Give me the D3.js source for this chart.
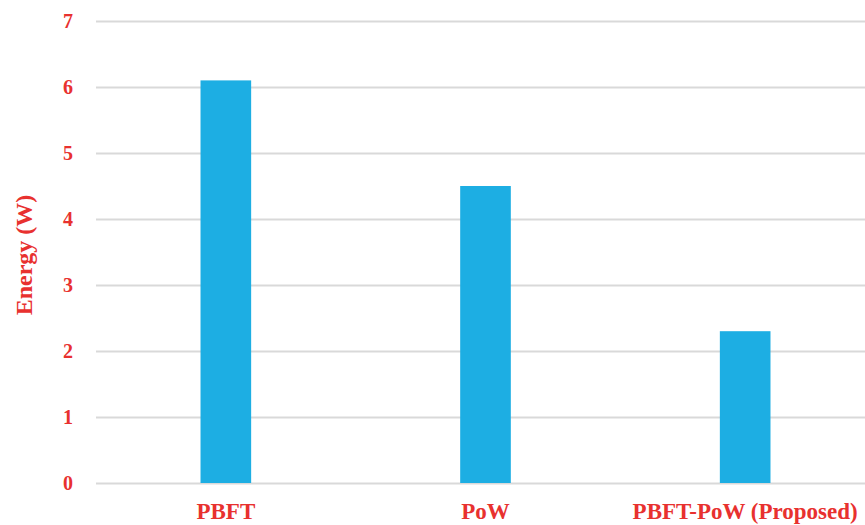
<!DOCTYPE html>
<html><head><meta charset="utf-8">
<script src="https://cdn.jsdelivr.net/npm/d3@7"></script>
<style>html,body{margin:0;padding:0;background:#fff;}</style>
</head><body>
<svg id="c" width="865" height="525"></svg>
<script>
const categories = ["PBFT", "PoW", "PBFT-PoW (Proposed)"];
const energy = [6.1, 4.5, 2.3];
const yTicks = [0, 1, 2, 3, 4, 5, 6, 7];
const yTitle = "Energy (W)";

const red = "#e8312f", blue = "#1daee3", grid = "#d9d9d9";
const font = "'Liberation Serif','Times New Roman',serif";
const svg = d3.select("#c");
const x = d3.scaleBand().domain(categories).range([96, 875]).paddingInner(0.805).paddingOuter(0.4025);
const y = d3.scaleLinear().domain([0, 7]).range([483, 21]);

const gy = svg.append("g").attr("transform", "translate(96,0)")
  .call(d3.axisLeft(y).tickValues(yTicks).tickSize(-780).tickPadding(23).tickFormat(d3.format("d")));
gy.select(".domain").remove();
gy.selectAll(".tick line").attr("stroke", grid).attr("stroke-width", 2);
gy.selectAll(".tick text").attr("fill", red).attr("font-family", font).attr("font-weight", "bold").attr("font-size", 20);

svg.append("g").selectAll("rect").data(energy).join("rect")
  .attr("x", (d, i) => x(categories[i])).attr("width", x.bandwidth())
  .attr("y", d => y(d)).attr("height", d => y(0) - y(d)).attr("fill", blue);

const gx = svg.append("g").attr("transform", "translate(0,483)")
  .call(d3.axisBottom(x).tickSize(0).tickPadding(20));
gx.select(".domain").remove();
gx.selectAll(".tick text").attr("fill", red).attr("font-family", font).attr("font-weight", "bold").attr("font-size", 23);

svg.append("text").attr("transform", "translate(32,255) rotate(-90)")
  .attr("text-anchor", "middle").attr("fill", red).attr("font-family", font)
  .attr("font-weight", "bold").attr("font-size", 24).text(yTitle);
</script>
</body></html>
